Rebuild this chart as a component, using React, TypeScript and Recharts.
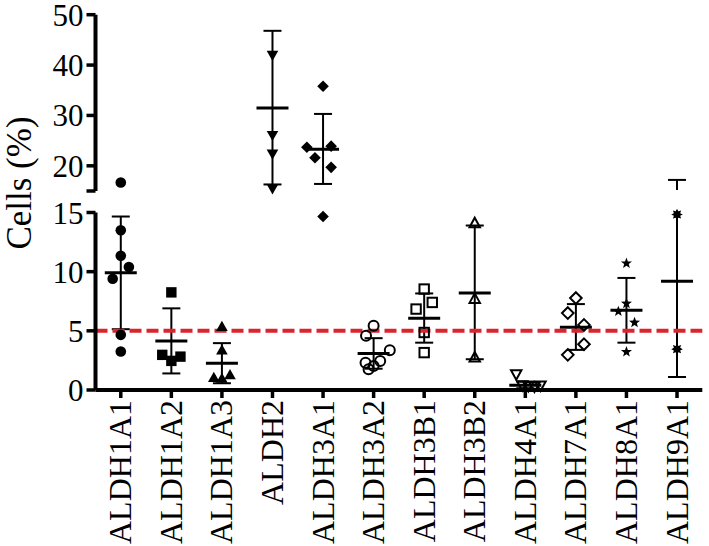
import { ScatterChart, Scatter, XAxis, YAxis, ErrorBar, ReferenceLine } from 'recharts';

const groups = [
  'ALDH1A1', 'ALDH1A2', 'ALDH1A3', 'ALDH2', 'ALDH3A1', 'ALDH3A2',
  'ALDH3B1', 'ALDH3B2', 'ALDH4A1', 'ALDH7A1', 'ALDH8A1', 'ALDH9A1',
];

const markers = [
  'dot', 'square', 'triUp', 'triDown', 'diamond', 'ring',
  'openSquare', 'openTriUp', 'openTriDown', 'openDiamond', 'star', 'asterisk',
];

// cells (%) for each sample
const cellValues = [
  [16.7, 13.5, 11.35, 10.4, 9.4, 4.66, 3.25],
  [8.25, 2.97, 2.82, 2.46],
  [5.34, 3.36, 1.04, 0.96, 1.27],
  [42.0, 26.1, 22.4, 15.5],
  [35.8, 23.7, 23.9, 21.6, 19.7, 14.66],
  [5.42, 4.58, 3.36, 2.31, 2.46, 2.03, 1.75],
  [8.53, 7.4, 6.84, 4.86, 3.16],
  [14.1, 7.7, 2.74],
  [1.33, 0.4, 0.35, 0.3, 0.38],
  [7.77, 6.5, 5.5, 3.87, 2.97],
  [10.7, 7.31, 6.64, 5.7, 3.22],
  [14.83, 3.45],
];

// sideways spread of the dots, in category widths
const cellJitter = [
  [0, 0, 0, 0.16, -0.16, 0, 0],
  [0, -0.18, 0.18, 0],
  [0, 0, -0.16, 0, 0.16],
  [0, 0, 0, 0],
  [0, -0.32, 0.16, -0.16, 0.16, 0],
  [0, -0.15, 0.32, -0.16, 0.13, 0, -0.1],
  [0, 0.16, -0.16, 0, 0],
  [0, 0, 0],
  [-0.18, -0.06, 0.06, 0.18, 0.3],
  [0, -0.16, 0.16, 0.16, -0.16],
  [0, 0, -0.16, 0.16, 0],
  [0, 0],
];

const means = [9.9, 4.15, 2.26, 31.5, 23.3, 3.08, 6.07, 8.19, 0.4, 5.31, 6.75, 9.18];
const sdLow = [5.14, 1.4, 0.57, 16.3, 16.4, 1.8, 4.0, 2.6, 0.15, 3.39, 4.0, 1.1];
const sdHigh = [14.66, 6.9, 3.96, 46.8, 30.3, 4.38, 8.16, 13.9, 0.7, 7.26, 9.47, 17.2];

const threshold = 5;
const topTicks = [15, 20, 30, 40, 50];
const bottomTicks = [0, 5, 10, 15];
const breakAt = 15;
const topMax = 50;

const font = '"Liberation Serif", "Times New Roman", serif';
const W = 709;
const H = 546;
const AXIS_W = 95.5;
const RIGHT = 6.7;
const xDomain = [-0.5, groups.length - 0.5];
const xTicks = groups.map((_, i) => i);

const points = groups.flatMap((g, i) =>
  cellValues[i].map((v, j) => ({ x: i + cellJitter[i][j], y: v, kind: markers[i] }))
);
const topPoints = points.filter((p) => p.y > breakAt);
const bottomPoints = points.filter((p) => p.y <= breakAt);

const meanRows = groups.map((g, i) => ({
  x: i,
  y: means[i],
  err: [means[i] - sdLow[i], sdHigh[i] - means[i]],
}));

// panel geometry (page pixels)
const TOP_MARGIN = { top: 14.7, right: RIGHT, bottom: 9, left: 0 };
const TOP_H = 200;
const BOT_MARGIN = { top: 212.5, right: RIGHT, bottom: 0, left: 0 };
const X_AXIS_H = 156;

function starPath(cx: number, cy: number, n: number, ro: number, ri: number) {
  let d = '';
  for (let k = 0; k < n * 2; k++) {
    const r = k % 2 === 0 ? ro : ri;
    const a = -Math.PI / 2 + (k * Math.PI) / n;
    d += (k === 0 ? 'M' : 'L') + (cx + r * Math.cos(a)).toFixed(2) + ',' + (cy + r * Math.sin(a)).toFixed(2);
  }
  return d + 'Z';
}

function Marker(props: any) {
  const { cx, cy, payload } = props;
  if (cx == null || cy == null) return null;
  const filled = { fill: '#000' };
  const open = { fill: 'none', stroke: '#000', strokeWidth: 2 };
  switch (payload.kind) {
    case 'dot':
      return <circle cx={cx} cy={cy} r={5.3} {...filled} />;
    case 'square':
      return <rect x={cx - 5.2} y={cy - 5.2} width={10.4} height={10.4} {...filled} />;
    case 'triUp':
      return <path d={`M${cx},${cy - 6}L${cx + 5.8},${cy + 4.2}L${cx - 5.8},${cy + 4.2}Z`} {...filled} />;
    case 'triDown':
      return <path d={`M${cx},${cy + 6}L${cx + 5.8},${cy - 4.2}L${cx - 5.8},${cy - 4.2}Z`} {...filled} />;
    case 'diamond':
      return <path d={`M${cx},${cy - 5.8}L${cx + 5.8},${cy}L${cx},${cy + 5.8}L${cx - 5.8},${cy}Z`} {...filled} />;
    case 'ring':
      return <circle cx={cx} cy={cy} r={5} {...open} />;
    case 'openSquare':
      return <rect x={cx - 4.7} y={cy - 4.7} width={9.4} height={9.4} {...open} />;
    case 'openTriUp':
      return <path d={`M${cx},${cy - 5.5}L${cx + 5.2},${cy + 4}L${cx - 5.2},${cy + 4}Z`} {...open} />;
    case 'openTriDown':
      return <path d={`M${cx},${cy + 5.5}L${cx + 5.2},${cy - 4}L${cx - 5.2},${cy - 4}Z`} {...open} />;
    case 'openDiamond':
      return <path d={`M${cx},${cy - 5.8}L${cx + 5.8},${cy}L${cx},${cy + 5.8}L${cx - 5.8},${cy}Z`} {...open} />;
    case 'star':
      return <path d={starPath(cx, cy, 5, 5.8, 2.4)} {...filled} />;
    case 'asterisk':
      return <path d={starPath(cx, cy, 8, 5.8, 3.4)} {...filled} />;
    default:
      return null;
  }
}

function MeanBar(props: any) {
  const { cx, cy } = props;
  if (cx == null || cy == null) return null;
  return <line x1={cx - 16} x2={cx + 16} y1={cy} y2={cy} stroke="#000" strokeWidth={3} />;
}

function GroupTick(props: any) {
  const { x, y, payload } = props;
  return (
    <text
      transform={`translate(${x},${y}) rotate(-90)`}
      textAnchor="end"
      dy="0.33em"
      fontFamily={font}
      fontSize={32}
      fill="#000"
    >
      {groups[payload.value]}
    </text>
  );
}

const axisLine = { stroke: '#000', strokeWidth: 4 };
const tickLine = { stroke: '#000', strokeWidth: 3.5 };
const yTick = { fontFamily: font, fontSize: 31, fill: '#000' };

const abs = (top: number): React.CSSProperties => ({ position: 'absolute', left: 0, top });

// mean ± SD bars; the wrapper div cuts them at the axis break
function MeanLayer({ domain, margin, height }: { domain: number[]; margin: any; height: number }) {
  return (
    <ScatterChart width={W} height={height} margin={{ ...margin, left: AXIS_W }}>
      <XAxis type="number" dataKey="x" domain={xDomain} hide />
      <YAxis type="number" dataKey="y" domain={domain} allowDataOverflow hide />
      <Scatter data={meanRows} shape={MeanBar} isAnimationActive={false}>
        <ErrorBar dataKey="err" direction="y" width={9} stroke="#000" strokeWidth={2} />
      </Scatter>
    </ScatterChart>
  );
}

export default function App() {
  return (
    <div style={{ position: 'absolute', left: 0, top: 0, width: W, height: H, background: '#fff' }}>
      {/* error bars, clipped to each axis segment */}
      <div style={{ position: 'absolute', left: 0, top: 0, width: W, height: 190, overflow: 'hidden' }}>
        <div style={abs(0)}>
          <MeanLayer domain={[breakAt, topMax]} margin={TOP_MARGIN} height={TOP_H} />
        </div>
      </div>
      <div style={{ position: 'absolute', left: 0, top: 211, width: W, height: H - 211, overflow: 'hidden' }}>
        <div style={abs(-211)}>
          <MeanLayer domain={[0, breakAt]} margin={{ ...BOT_MARGIN, bottom: X_AXIS_H }} height={H} />
        </div>
      </div>

      {/* upper segment: axis and dots */}
      <div style={abs(0)}>
        <ScatterChart width={W} height={TOP_H} margin={TOP_MARGIN}>
          <XAxis type="number" dataKey="x" domain={xDomain} hide />
          <YAxis
            type="number"
            dataKey="y"
            domain={[breakAt, topMax]}
            ticks={topTicks}
            interval={0}
            width={AXIS_W}
            tickSize={9}
            tickMargin={3}
            axisLine={axisLine}
            tickLine={tickLine}
            tick={yTick}
            tickFormatter={(v: number) => (v === breakAt ? '' : String(v))}
          />
          <Scatter data={topPoints} shape={Marker} isAnimationActive={false} />
        </ScatterChart>
      </div>

      {/* lower segment: axes, dots and the 5 % threshold */}
      <div style={abs(0)}>
        <ScatterChart width={W} height={H} margin={BOT_MARGIN}>
          <XAxis
            type="number"
            dataKey="x"
            domain={xDomain}
            ticks={xTicks}
            interval={0}
            height={X_AXIS_H}
            tickSize={8}
            tickMargin={2}
            axisLine={axisLine}
            tickLine={tickLine}
            tick={<GroupTick />}
          />
          <YAxis
            type="number"
            dataKey="y"
            domain={[0, breakAt]}
            ticks={bottomTicks}
            interval={0}
            width={AXIS_W}
            tickSize={9}
            tickMargin={3}
            axisLine={axisLine}
            tickLine={tickLine}
            tick={yTick}
          />
          <Scatter data={bottomPoints} shape={Marker} isAnimationActive={false} />
          <ReferenceLine y={threshold} stroke="#d9252b" strokeWidth={4} strokeDasharray="12 5" />
        </ScatterChart>
      </div>

      <svg width={60} height={H} style={{ position: 'absolute', left: 0, top: 0 }}>
        <text
          transform="translate(19,183) rotate(-90)"
          textAnchor="middle"
          dy="0.33em"
          fontFamily={font}
          fontSize={35}
          fill="#000"
        >
          Cells (%)
        </text>
      </svg>
    </div>
  );
}
